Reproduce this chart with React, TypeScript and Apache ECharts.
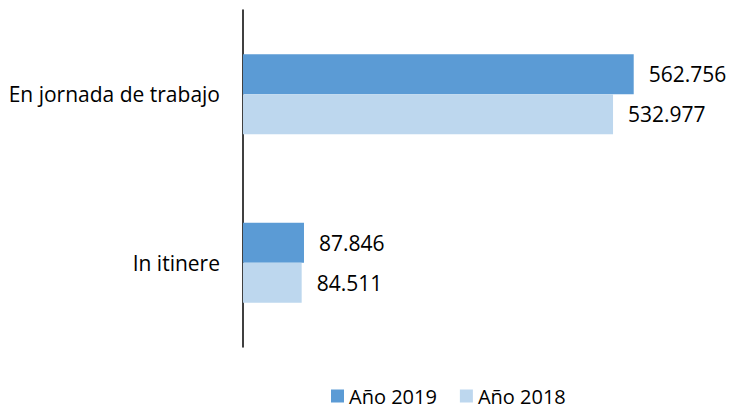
import React, { useEffect, useRef } from "react";
import * as echarts from "echarts";

const categories = ["En jornada de trabajo", "In itinere"];
const seriesNames = ["Año 2019", "Año 2018"];
const values2019 = [562756, 87846];
const values2018 = [532977, 84511];
const colors = ["#5B9BD5", "#BDD7EE"];

const fmt = (v: number) => {
  const s = Math.round(v).toString();
  return s.replace(/\B(?=(\d{3})+(?!\d))/g, ".");
};

export default function App() {
  const ref = useRef<HTMLDivElement>(null);
  useEffect(() => {
    document.body.style.margin = "0";
    if (!ref.current) return;
    const chart = echarts.init(ref.current, null, { renderer: "svg" });
    const font = "'Open Sans', sans-serif";
    const mk = (name: string, data: number[], color: string) => ({
      name,
      type: "bar",
      data,
      barWidth: 40,
      barGap: "0%",
      itemStyle: { color },
      label: {
        show: true,
        position: "right",
        distance: 15,
        color: "#000",
        fontSize: 21,
        fontFamily: font,
        formatter: (p: any) => fmt(p.value),
      },
    });
    chart.setOption({
      animation: false,
      textStyle: { fontFamily: font },
      grid: { left: 243, right: 2, top: 10, bottom: 61, containLabel: false },
      legend: {
        left: 326,
        top: 380,
        itemWidth: 13,
        itemHeight: 13,
        itemGap: 23,
        icon: "rect",
        textStyle: { fontSize: 20, lineHeight: 22, color: "#000", fontFamily: font },
        data: seriesNames,
      },
      xAxis: {
        type: "value",
        min: 0,
        max: 700000,
        show: false,
      },
      yAxis: {
        type: "category",
        data: categories,
        inverse: true,
        axisLine: { show: true, lineStyle: { color: "#000", width: 1.5 } },
        axisTick: { show: false },
        axisLabel: { color: "#000", fontSize: 21, margin: 23, fontFamily: font },
      },
      series: [
        mk(seriesNames[0], values2019, colors[0]),
        mk(seriesNames[1], values2018, colors[1]),
      ],
    });
    return () => chart.dispose();
  }, []);
  return <div ref={ref} style={{ width: 731, height: 408 }} />;
}
